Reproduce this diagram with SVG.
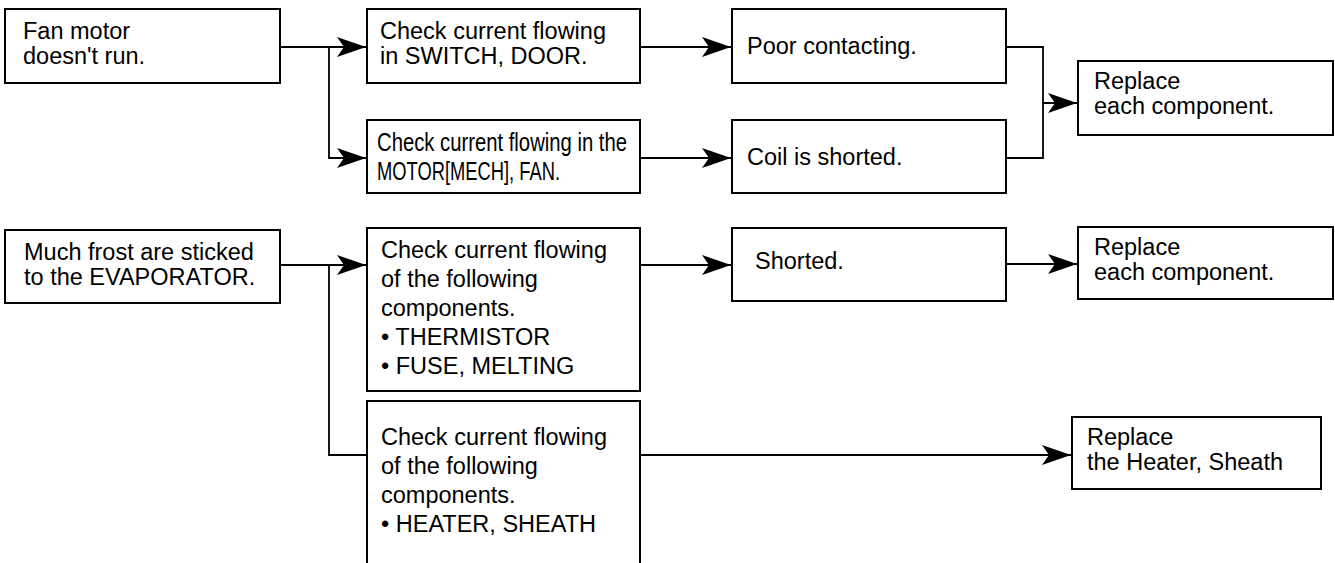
<svg xmlns="http://www.w3.org/2000/svg" width="1335" height="563" viewBox="0 0 1335 563">
<style>
.box{fill:#fff;stroke:#000;stroke-width:2}
.ln{fill:none;stroke:#000;stroke-width:1.8}
.b{font-family:"Liberation Sans",Arial,sans-serif;font-size:23.5px;fill:#000}
.c{font-family:"Liberation Sans",Arial,sans-serif;font-size:25px;fill:#000}
</style>
<defs>
<marker id="ah" markerUnits="userSpaceOnUse" markerWidth="30" markerHeight="22" refX="29" refY="10" orient="auto" viewBox="0 0 30 22">
<path d="M0,0 L29,10 L0,20 L7,10 Z" fill="#000"/>
</marker>
</defs>
<g id="connectors">
<path class="ln" d="M280,47 H366" marker-end="url(#ah)"/>
<path class="ln" d="M329,47 V158 H366" marker-end="url(#ah)"/>
<path class="ln" d="M640,47 H731" marker-end="url(#ah)"/>
<path class="ln" d="M640,158 H731" marker-end="url(#ah)"/>
<path class="ln" d="M1006,47 H1043 V158 H1006"/>
<path class="ln" d="M1043,103 H1077" marker-end="url(#ah)"/>
<path class="ln" d="M280,265 H366" marker-end="url(#ah)"/>
<path class="ln" d="M329,265 V455 H367"/>
<path class="ln" d="M640,265 H731" marker-end="url(#ah)"/>
<path class="ln" d="M1006,264 H1077" marker-end="url(#ah)"/>
<path class="ln" d="M640,455 H1071" marker-end="url(#ah)"/>
</g>
<g id="n1">
<rect class="box" x="5" y="9" width="275" height="74"/>
<text class="b"><tspan x="23" y="39">Fan motor</tspan><tspan x="23" y="64">doesn't run.</tspan></text>
</g>
<g id="n2">
<rect class="box" x="367" y="9" width="273" height="74"/>
<text class="b"><tspan x="380" y="39">Check current flowing</tspan><tspan x="380" y="64">in SWITCH, DOOR.</tspan></text>
</g>
<g id="n3">
<rect class="box" x="367" y="120" width="273" height="73"/>
<text class="c" x="377" y="151" textLength="250" lengthAdjust="spacingAndGlyphs">Check current flowing in the</text>
<text class="c" x="377" y="180" textLength="183" lengthAdjust="spacingAndGlyphs">MOTOR[MECH], FAN.</text>
</g>
<g id="n4">
<rect class="box" x="732" y="9" width="274" height="74"/>
<text class="b" x="747" y="54">Poor contacting.</text>
</g>
<g id="n5">
<rect class="box" x="732" y="120" width="274" height="73"/>
<text class="b" x="747" y="165">Coil is shorted.</text>
</g>
<g id="n6">
<rect class="box" x="1078" y="61" width="255" height="74"/>
<text class="b"><tspan x="1094" y="89">Replace</tspan><tspan x="1094" y="114">each component.</tspan></text>
</g>
<g id="n7">
<rect class="box" x="5" y="230" width="275" height="73"/>
<text class="b"><tspan x="24" y="260">Much frost are sticked</tspan><tspan x="24" y="285">to the EVAPORATOR.</tspan></text>
</g>
<g id="n8">
<rect class="box" x="367" y="228" width="273" height="163"/>
<text class="b"><tspan x="381" y="258">Check current flowing</tspan><tspan x="381" y="287">of the following</tspan><tspan x="381" y="316">components.</tspan><tspan x="381" y="345">• THERMISTOR</tspan><tspan x="381" y="374">• FUSE, MELTING</tspan></text>
</g>
<g id="n9">
<path class="box" d="M367,570 V401 H640 V570"/>
<text class="b"><tspan x="381" y="445">Check current flowing</tspan><tspan x="381" y="474">of the following</tspan><tspan x="381" y="503">components.</tspan><tspan x="381" y="532">• HEATER, SHEATH</tspan></text>
</g>
<g id="n10">
<rect class="box" x="732" y="228" width="274" height="73"/>
<text class="b" x="755" y="269">Shorted.</text>
</g>
<g id="n11">
<rect class="box" x="1078" y="227" width="255" height="72"/>
<text class="b"><tspan x="1094" y="255">Replace</tspan><tspan x="1094" y="280">each component.</tspan></text>
</g>
<g id="n12">
<rect class="box" x="1072" y="417" width="249" height="72"/>
<text class="b"><tspan x="1087" y="445">Replace</tspan><tspan x="1087" y="470">the Heater, Sheath</tspan></text>
</g>
</svg>
